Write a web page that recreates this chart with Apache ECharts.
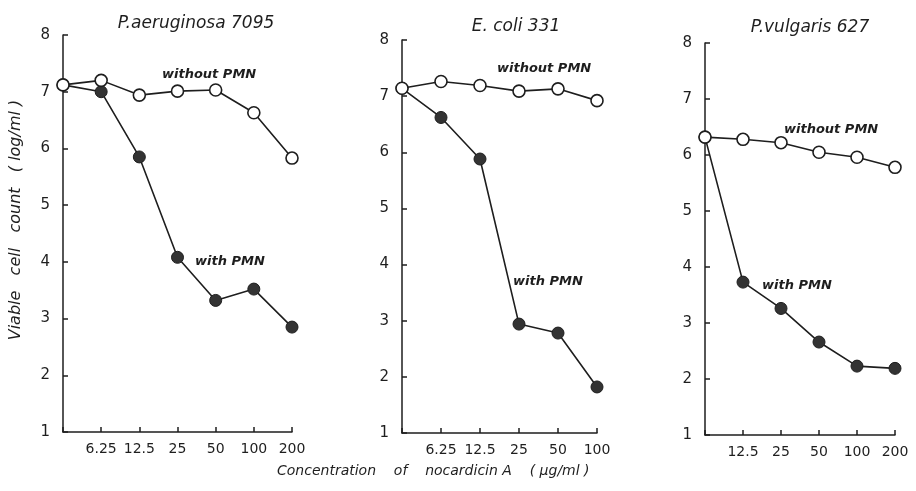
<!DOCTYPE html>
<html><head><meta charset="utf-8">
<script src="https://cdn.jsdelivr.net/npm/echarts@6/dist/echarts.min.js"></script>
<style>html,body{margin:0;padding:0;background:#fff}#c{width:916px;height:491px}</style>
</head><body><div id="c"></div>
<script>
// ---- data ----
const titles = ['P.aeruginosa 7095', 'E. coli 331', 'P.vulgaris 627'];
const cats1 = ['', '6.25', '12.5', '25', '50', '100', '200'];
const cats2 = ['', '6.25', '12.5', '25', '50', '100'];
const cats3 = ['', '12.5', '25', '50', '100', '200'];
const without1 = [7.12, 7.2, 6.94, 7.01, 7.03, 6.63, 5.83];
const with1    = [7.12, 7.0, 5.85, 4.08, 3.32, 3.52, 2.85];
const without2 = [7.14, 7.26, 7.19, 7.09, 7.13, 6.92];
const with2    = [7.14, 6.62, 5.88, 2.94, 2.78, 1.82];
const without3 = [6.32, 6.28, 6.22, 6.05, 5.96, 5.78];
const with3    = [6.32, 3.73, 3.26, 2.66, 2.23, 2.19];
const yTicks = [1, 2, 3, 4, 5, 6, 7, 8];

const ink = '#1e1e1e';
const font = "'DejaVu Sans', sans-serif";
const grids = [
  {left: 63, top: 35, width: 229, height: 397},
  {left: 402, top: 40, width: 195, height: 393},
  {left: 705, top: 43, width: 190, height: 392}
];
const catsAll = [cats1, cats2, cats3];
const withoutAll = [without1, without2, without3];
const withAll = [with1, with2, with3];

const xAxes = catsAll.map((c, i) => ({
  type: 'category', gridIndex: i, data: c, boundaryGap: false,
  axisLine: {lineStyle: {color: ink, width: 1.5}},
  axisTick: {inside: true, length: 5, lineStyle: {color: ink, width: 1.5}, interval: 0},
  axisLabel: {color: ink, fontSize: 14, fontFamily: font, margin: 10, interval: 0},
  splitLine: {show: false}
}));
const yAxes = grids.map((g, i) => ({
  type: 'value', gridIndex: i, min: yTicks[0], max: yTicks[yTicks.length - 1], interval: 1,
  axisLine: {show: true, lineStyle: {color: ink, width: 1.5}},
  axisTick: {show: true, inside: true, length: 5, lineStyle: {color: ink, width: 1.5}},
  axisLabel: {color: ink, fontSize: 15, fontFamily: font, margin: 13},
  splitLine: {show: false}
}));

const series = [];
for (let i = 0; i < 3; i++) {
  series.push({
    type: 'line', xAxisIndex: i, yAxisIndex: i, data: withAll[i],
    symbol: 'circle', symbolSize: 12, z: 2,
    lineStyle: {color: ink, width: 1.6},
    itemStyle: {color: '#333', borderColor: ink, borderWidth: 1}
  });
  series.push({
    type: 'line', xAxisIndex: i, yAxisIndex: i, data: withoutAll[i],
    symbol: 'circle', symbolSize: 12, z: 3,
    lineStyle: {color: ink, width: 1.6},
    itemStyle: {color: '#fff', borderColor: ink, borderWidth: 1.6}
  });
}

const ann = (x, y, t) => ({type: 'text', left: x, top: y,
  style: {text: t, fill: ink, font: "italic bold 13px 'DejaVu Sans', sans-serif"}});

const option = {
  animation: false,
  backgroundColor: '#fff',
  title: [
    {text: titles[0], left: 191, top: 10, textAlign: 'center'},
    {text: titles[1], left: 511, top: 13, textAlign: 'center'},
    {text: titles[2], left: 805, top: 14, textAlign: 'center'}
  ].map(t => Object.assign(t, {textStyle: {color: ink, fontSize: 17, fontWeight: 'normal', fontStyle: 'italic', fontFamily: font}})),
  grid: grids,
  xAxis: xAxes,
  yAxis: yAxes,
  series: series,
  graphic: [
    ann(162, 68, 'without PMN'),
    ann(497, 62, 'without PMN'),
    ann(784, 123, 'without PMN'),
    ann(195, 255, 'with PMN'),
    ann(513, 275, 'with PMN'),
    ann(762, 279, 'with PMN'),
    {type: 'text', x: 16, y: 220, rotation: Math.PI / 2,
     style: {text: 'Viable   cell   count   ( log/ml )', fill: ink, align: 'center', verticalAlign: 'middle',
       font: "italic 16px 'DejaVu Sans', sans-serif"}},
    {type: 'text', left: 277, top: 464,
     style: {text: 'Concentration    of    nocardicin A    ( \u03bcg/ml )', fill: ink,
       font: "italic 14px 'DejaVu Sans', sans-serif"}}
  ]
};
const chart = echarts.init(document.getElementById('c'), null, {renderer: 'canvas'});
chart.setOption(option);
</script></body></html>
